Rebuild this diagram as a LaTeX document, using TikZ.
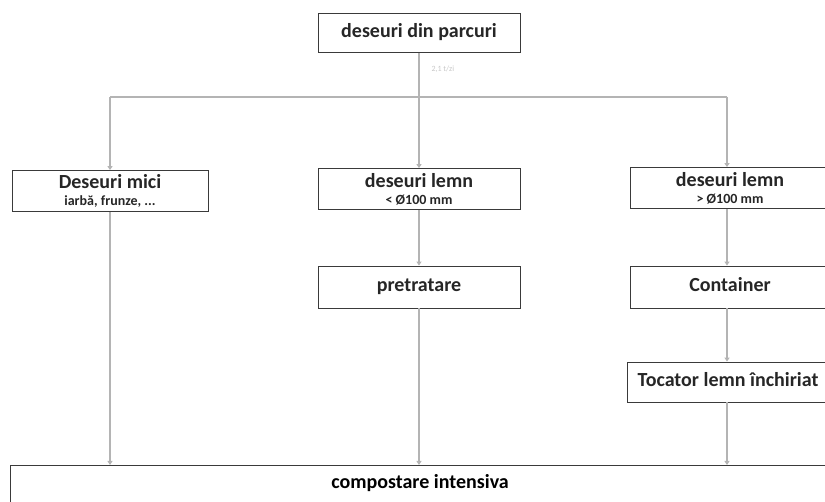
\documentclass[tikz,border=0pt]{standalone}
\usepackage{fontspec}
\setmainfont{Carlito}
\usetikzlibrary{arrows.meta}
\definecolor{linegray}{HTML}{B4B4B4}
\definecolor{boxline}{HTML}{3A3A3A}
\tikzset{
  box/.style={draw=boxline, line width=0.7pt, fill=white, inner sep=0pt, align=center, text=black!85},
  conn/.style={draw=linegray, line width=1.1pt, -{Triangle[width=5pt,length=4pt]}},
  plain/.style={draw=linegray, line width=1.1pt},
  big/.style={font=\fontsize{20}{22}\selectfont\bfseries, text height=14pt, text depth=4pt},
  twoline/.style={font=\fontsize{20}{17}\selectfont\bfseries},
}
\newcommand{\subline}[1]{{\fontsize{14}{17}\selectfont #1}}
\begin{document}
\begin{tikzpicture}[x=1pt,y=-1pt]
\useasboundingbox (0,0) rectangle (825,502);
% boxes (pixel coordinates)
\node[box, minimum width=202pt, minimum height=39pt, big] (top) at (419,33) {deseuri din parcuri};
\node[box, minimum width=196pt, minimum height=41pt, twoline] (mici) at (110,191) {Deseuri mici\\\subline{iarbă, frunze, ...}};
\node[box, minimum width=202pt, minimum height=41pt, twoline] (lemn1) at (419,189) {deseuri lemn\\\subline{< Ø100 mm}};
\node[box, minimum width=200pt, minimum height=41pt, twoline] (lemn2) at (730,188) {deseuri lemn\\\subline{> Ø100 mm}};
\node[box, minimum width=202pt, minimum height=42pt, big] (pre) at (419,287) {pretratare};
\node[box, minimum width=200pt, minimum height=42pt, big] (cont) at (730,287) {Container};
\node[box, minimum width=202pt, minimum height=40pt, big] (toc) at (728,382) {Tocator lemn închiriat};
\node[box, minimum width=830pt, minimum height=60pt, anchor=north west] (comp) at (10,465) {};
\node[big] (comptxt) at (420,484) {compostare intensiva};
\node[text=black!22, font=\fontsize{8}{9}\selectfont, align=left, anchor=north west] (qty) at (428,62) {2,1 t/zi};
% connectors
\coordinate (split) at (419,97);
\coordinate (hl) at (110,97);
\coordinate (hr) at (727,97);
\draw[plain] (top.south) -- (split);
\draw[plain] (hl) -- (hr);
\draw[conn] (hl) -- (hl |- mici.north);
\draw[conn] (split) -- (lemn1.north);
\draw[conn] (hr) -- (hr |- lemn2.north);
\draw[conn] (lemn1.south) -- (pre.north);
\draw[conn] (lemn2.south -| hr) -- (hr |- cont.north);
\draw[conn] (cont.south -| hr) -- (hr |- toc.north);
\draw[conn] (mici.south -| hl) -- (hl |- comp.north);
\draw[conn] (pre.south) -- (pre.south |- comp.north);
\draw[conn] (toc.south -| hr) -- (hr |- comp.north);
\end{tikzpicture}
\end{document}
